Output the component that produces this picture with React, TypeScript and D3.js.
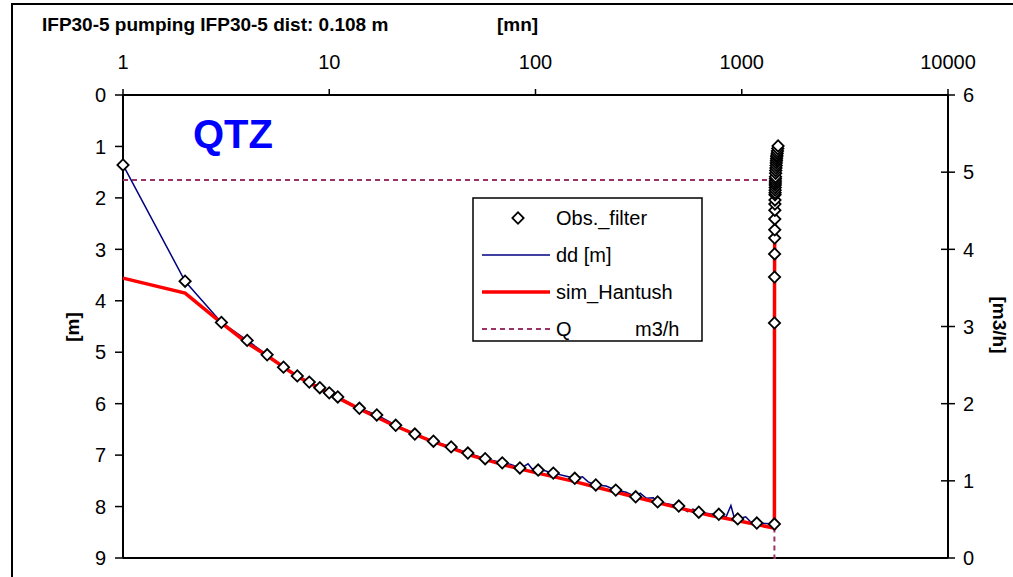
import React from 'react';
import * as d3 from 'd3';

const xTickValues = [1, 10, 100, 1000, 10000];
const xTickLabels = ['1', '10', '100', '1000', '10000'];
const leftTickValues = [0, 1, 2, 3, 4, 5, 6, 7, 8, 9];
const rightTickValues = [0, 1, 2, 3, 4, 5, 6];

// Observations (filtered) : time [mn], drawdown [m]
const obsTime = [1, 2, 3, 4, 5, 6, 7, 8, 9, 10, 11, 14, 17, 21, 26, 32, 39, 47, 57, 69, 84, 103, 122, 155, 196, 245, 306, 391, 495, 619, 774, 956, 1183, 1440,
  1441, 1442, 1443, 1444, 1445, 1446, 1447, 1448, 1449, 1450, 1451, 1452, 1453, 1454, 1455, 1456, 1457, 1458, 1460, 1462, 1465, 1468, 1470, 1473, 1475, 1478, 1480, 1485, 1490, 1495, 1500];
const obsValue = [1.36, 3.62, 4.42, 4.77, 5.05, 5.29, 5.46, 5.58, 5.69, 5.79, 5.87, 6.09, 6.22, 6.42, 6.59, 6.73, 6.84, 6.96, 7.07, 7.15, 7.25, 7.29, 7.35, 7.45, 7.58, 7.68, 7.81, 7.91, 7.99, 8.11, 8.15, 8.24, 8.32, 8.34,
  4.43, 3.54, 3.09, 2.78, 2.62, 2.41, 2.24, 2.12, 2.04, 1.94, 1.9, 1.85, 1.8, 1.75, 1.71, 1.67, 1.63, 1.59, 1.52, 1.47, 1.42, 1.37, 1.32, 1.28, 1.24, 1.2, 1.17, 1.13, 1.09, 1.04, 0.99];

// Raw drawdown dd [m]
const ddTime = [1, 2, 3, 4, 5, 6, 7, 8, 9, 10, 11, 14, 17, 21, 26, 32, 39, 47, 57, 69, 76, 84, 88, 92, 96, 103, 110, 122, 138, 155, 169, 180, 196, 220, 245, 275, 306, 322, 345, 373, 391, 440, 495, 546, 580, 619, 700, 774, 840, 886, 920, 956, 1045, 1100, 1183, 1300, 1440,
  1441, 1442, 1443, 1444, 1445, 1446, 1447, 1448, 1449, 1450, 1452, 1454, 1456, 1458, 1460, 1465, 1470, 1475, 1480, 1490, 1500];
const ddValue = [1.36, 3.62, 4.42, 4.77, 5.05, 5.29, 5.46, 5.58, 5.69, 5.79, 5.87, 6.09, 6.22, 6.42, 6.59, 6.73, 6.84, 6.96, 7.07, 7.15, 7.18, 7.25, 7.22, 7.17, 7.26, 7.29, 7.3, 7.35, 7.4, 7.45, 7.42, 7.52, 7.58, 7.6, 7.68, 7.72, 7.81, 7.74, 7.84, 7.83, 7.91, 7.95, 7.99, 8.1, 8.05, 8.11, 8.14, 8.15, 8.2, 7.98, 8.22, 8.24, 8.2, 8.29, 8.32, 8.33, 8.34,
  4.43, 3.54, 3.09, 2.78, 2.62, 2.41, 2.24, 2.12, 2.04, 1.94, 1.85, 1.75, 1.67, 1.59, 1.52, 1.42, 1.32, 1.24, 1.17, 1.09, 0.99];

// Simulated (Hantush)
const simTime = [1, 2, 3, 4, 5, 7, 10, 14, 20, 30, 50, 70, 100, 150, 200, 300, 500, 700, 1000, 1440,
  1441, 1442, 1443, 1445, 1450, 1460, 1480, 1500];
const simValue = [3.56, 3.85, 4.43, 4.82, 5.07, 5.47, 5.8, 6.1, 6.4, 6.7, 7.02, 7.19, 7.34, 7.5, 7.63, 7.81, 8.03, 8.17, 8.29, 8.42,
  4.6, 3.7, 3.2, 2.65, 2.1, 1.7, 1.3, 1.05];

// Pumping rate Q [m3/h]
const qTime = [1, 1440, 1440, 1510];
const qValue = [4.9, 4.9, 0, 0];

const FONT = 'Liberation Sans, Arial, sans-serif';

export default function App() {
  const x = d3.scaleLog().domain([1, 10000]).range([123, 948]);
  const yL = d3.scaleLinear().domain([0, 9]).range([95, 558]);
  const yR = d3.scaleLinear().domain([0, 6]).range([558, 95]);

  const lineL = d3.line<[number, number]>().x(d => x(d[0])).y(d => yL(d[1]));
  const lineR = d3.line<[number, number]>().x(d => x(d[0])).y(d => yR(d[1]));

  const ddPath = lineL(ddTime.map((t, i) => [t, ddValue[i]]))!;
  const simPath = lineL(simTime.map((t, i) => [t, simValue[i]]))!;
  const qPath = lineR(qTime.map((t, i) => [t, qValue[i]]))!;
  const diamond = d3.symbol().type(d3.symbolSquare).size(64)()!;

  const qColor = '#993366';
  const legendX = 473, legendY = 198;

  return (
    <svg width={1013} height={577} style={{ position: 'absolute', left: 0, top: 0, background: '#fff' }} fontFamily={FONT}>
      <rect x={0} y={0} width={1013} height={577} fill="#fff" />
      <rect x={12} y={4} width={1010} height={600} fill="none" stroke="#000" strokeWidth={2} />

      <text x={42} y={31} fontSize={19} fontWeight="bold">IFP30-5 pumping IFP30-5 dist: 0.108 m</text>
      <text x={497} y={31} fontSize={19} fontWeight="bold">[mn]</text>

      {/* axes */}
      <line x1={123} y1={95} x2={948} y2={95} stroke="#000" strokeWidth={2} />
      <line x1={123} y1={558} x2={948} y2={558} stroke="#000" strokeWidth={2} />
      <line x1={123} y1={95} x2={123} y2={558} stroke="#000" strokeWidth={2} />
      <line x1={948} y1={95} x2={948} y2={558} stroke="#000" strokeWidth={2} />

      {xTickValues.map((v, i) => (
        <g key={'xt' + i}>
          <line x1={x(v)} x2={x(v)} y1={89} y2={95} stroke="#000" strokeWidth={1.5} />
          <text x={x(v)} y={69} fontSize={20} textAnchor="middle">{xTickLabels[i]}</text>
        </g>
      ))}
      {leftTickValues.map(v => (
        <g key={'yl' + v}>
          <line x1={115} x2={123} y1={yL(v)} y2={yL(v)} stroke="#000" strokeWidth={1.5} />
          <text x={106} y={yL(v)} dy="0.36em" fontSize={20} textAnchor="end">{v}</text>
        </g>
      ))}
      {rightTickValues.map(v => (
        <g key={'yr' + v}>
          <line x1={941} x2={955} y1={yR(v)} y2={yR(v)} stroke="#000" strokeWidth={1.5} />
          <text x={963} y={yR(v)} dy="0.36em" fontSize={20} textAnchor="start">{v}</text>
        </g>
      ))}
      <text transform="translate(72,327) rotate(-90)" fontSize={19} fontWeight="bold" textAnchor="middle" dy="0.36em">[m]</text>
      <text transform="translate(1000,325) rotate(90)" fontSize={19} fontWeight="bold" textAnchor="middle" dy="0.36em">[m3/h]</text>

      <text x={193} y={148} fontSize={40} fontWeight="bold" fill="#0000ff">QTZ</text>

      {/* series */}
      <path d={qPath} fill="none" stroke={qColor} strokeWidth={2} strokeDasharray="5,4" />
      <path d={ddPath} fill="none" stroke="#000080" strokeWidth={1.5} />
      <path d={simPath} fill="none" stroke="#ff0000" strokeWidth={3.5} />
      {obsTime.map((t, i) => (
        <path key={'o' + i} d={diamond} transform={`translate(${x(t)},${yL(obsValue[i])}) rotate(45)`} fill="#fff" stroke="#000" strokeWidth={1.8} />
      ))}

      {/* legend */}
      <rect x={legendX} y={legendY} width={229} height={143} fill="#fff" stroke="#000" strokeWidth={1.5} />
      <path d={diamond} transform={`translate(518,218) rotate(45)`} fill="#fff" stroke="#000" strokeWidth={1.8} />
      <text x={556} y={218} dy="0.36em" fontSize={20}>Obs._filter</text>
      <line x1={482} x2={550} y1={255} y2={255} stroke="#000080" strokeWidth={1.5} />
      <text x={556} y={255} dy="0.36em" fontSize={20}>dd [m]</text>
      <line x1={482} x2={550} y1={292} y2={292} stroke="#ff0000" strokeWidth={3.5} />
      <text x={556} y={292} dy="0.36em" fontSize={20}>sim_Hantush</text>
      <line x1={482} x2={550} y1={329} y2={329} stroke={qColor} strokeWidth={2} strokeDasharray="5,4" />
      <text x={556} y={329} dy="0.36em" fontSize={20}>Q</text>
      <text x={635} y={329} dy="0.36em" fontSize={20}>m3/h</text>
    </svg>
  );
}
